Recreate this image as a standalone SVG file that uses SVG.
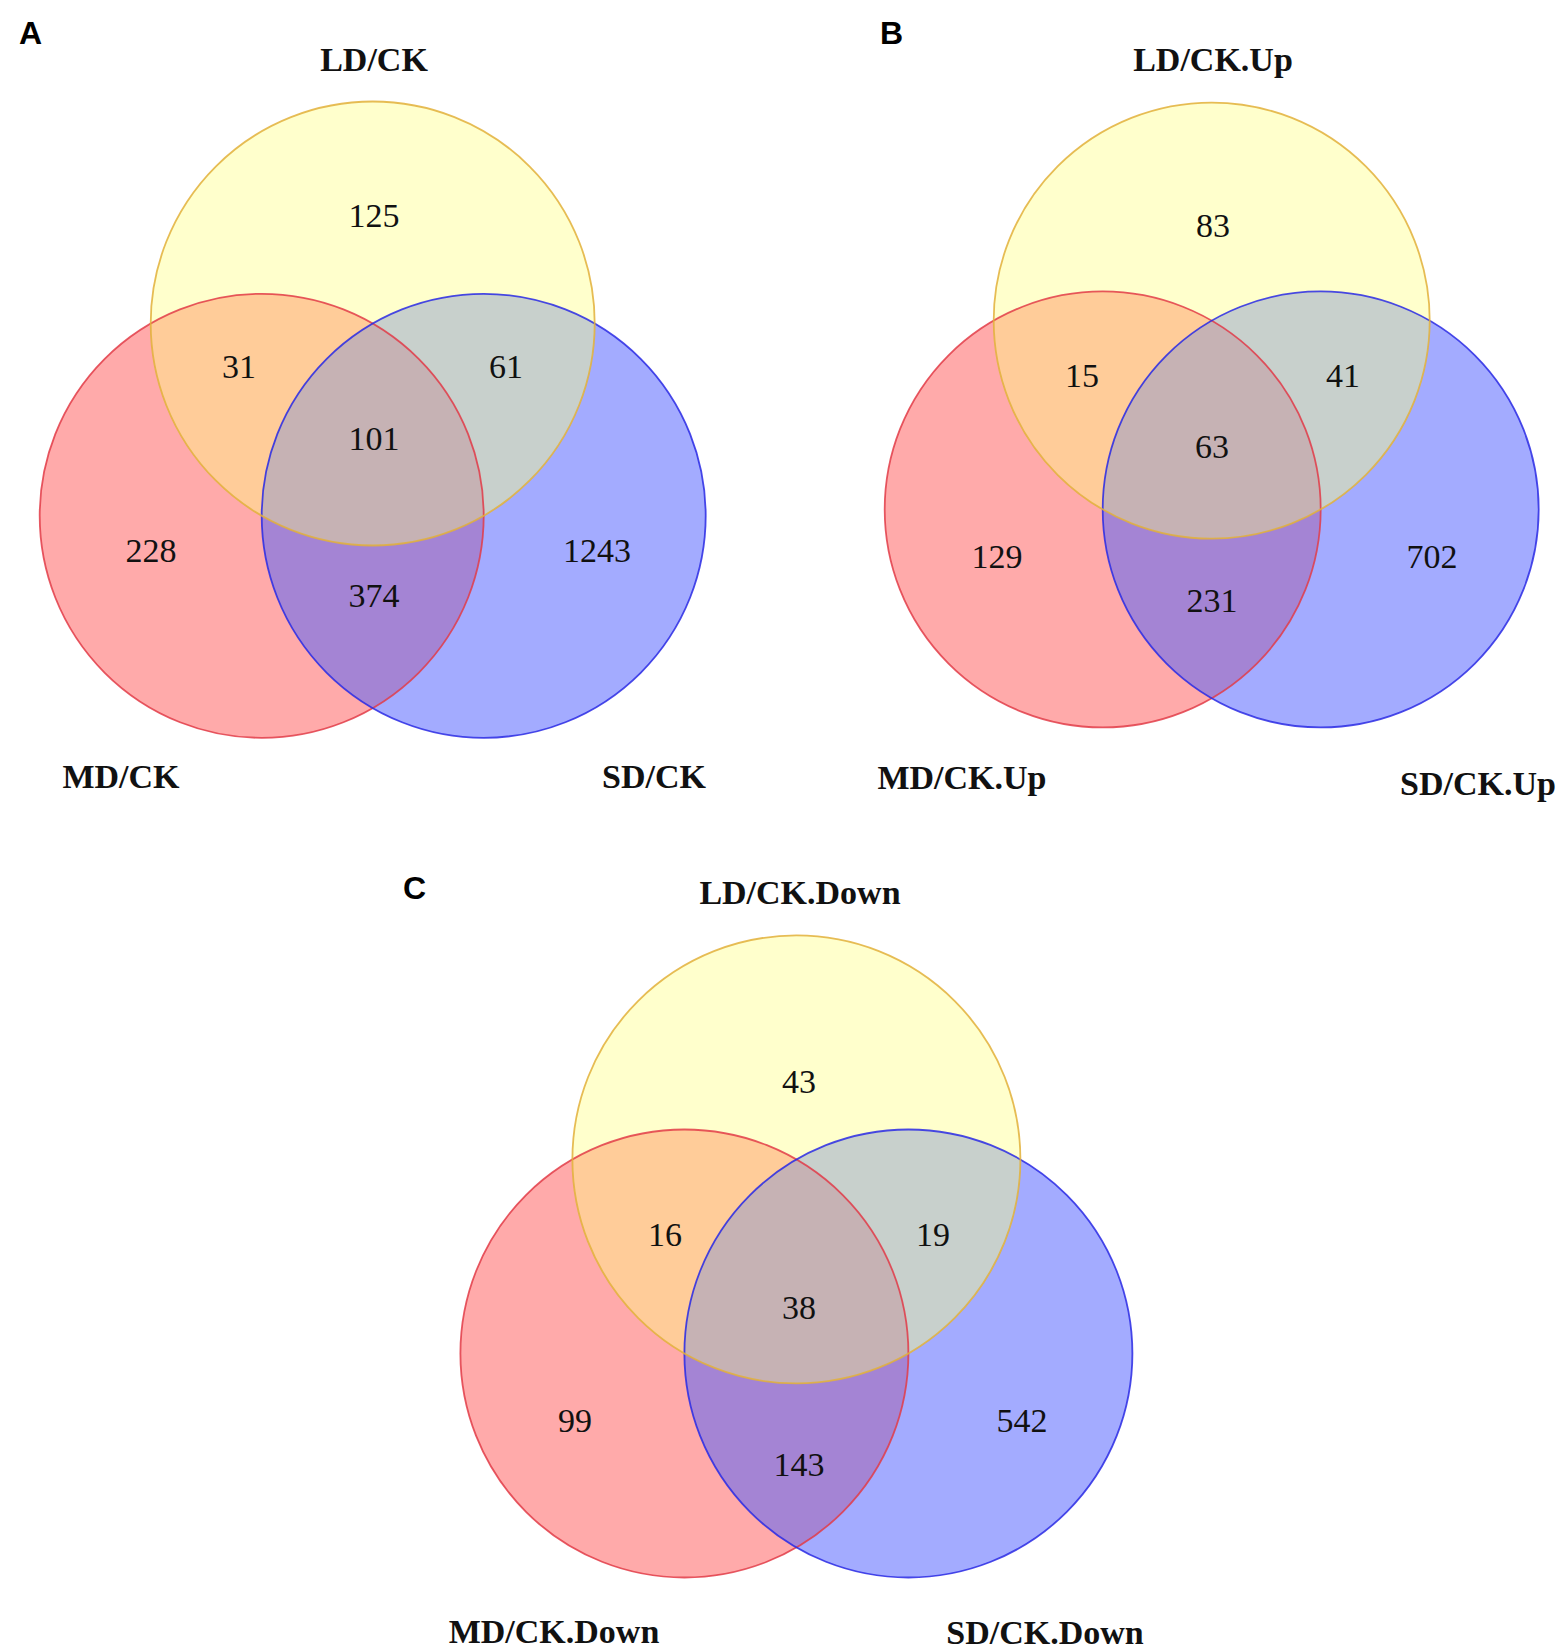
<svg xmlns="http://www.w3.org/2000/svg" xmlns:xlink="http://www.w3.org/1999/xlink" width="1562" height="1650" viewBox="0 0 1562 1650">
<style>
.ld{fill:#ffffcc}
.md{fill:#ffaaaa}
.sd{fill:#a3abff}
.ldmd{fill:#ffcc99}
.ldsd{fill:#c8d0cc}
.mdsd{fill:#a484d4}
.all{fill:#c6b2b4}
.edge{fill:none;stroke-width:1.8;stroke-opacity:0.85}
.eLD{stroke:#e2b03a}
.eMD{stroke:#e23c48}
.eSD{stroke:#2a2ae4}
.num{font-family:"Liberation Serif","Times New Roman",serif;font-size:34px;fill:#111;text-anchor:middle}
.lab{font-family:"Liberation Serif","Times New Roman",serif;font-size:34px;font-weight:bold;fill:#111;text-anchor:middle}
.pl{font-family:"Liberation Sans",Arial,sans-serif;font-size:32px;font-weight:bold;fill:#000}
</style>
<defs>
<clipPath id="clipMD"><circle cx="-111" cy="64.1" r="222"/></clipPath>
<clipPath id="clipSD"><circle cx="111" cy="64.1" r="222"/></clipPath>
<clipPath id="clipMDSD" clip-path="url(#clipSD)"><circle cx="-111" cy="64.1" r="222"/></clipPath>
</defs>
<rect width="1562" height="1650" fill="#ffffff"/>

<g id="panelA">
<g transform="translate(372.7,451.7)">
<g id="A-MD"><circle class="md" cx="-111" cy="64.1" r="222"/></g>
<g id="A-SD"><circle class="sd" cx="111" cy="64.1" r="222"/></g>
<g id="A-LD"><circle class="ld" cx="0" cy="-128.2" r="222"/></g>
<circle class="ldmd" cx="0" cy="-128.2" r="222" clip-path="url(#clipMD)"/>
<circle class="ldsd" cx="0" cy="-128.2" r="222" clip-path="url(#clipSD)"/>
<circle class="mdsd" cx="-111" cy="64.1" r="222" clip-path="url(#clipSD)"/>
<circle class="all" cx="0" cy="-128.2" r="222" clip-path="url(#clipMDSD)"/>
<circle class="edge eMD" cx="-111" cy="64.1" r="222"/>
<circle class="edge eSD" cx="111" cy="64.1" r="222"/>
<circle class="edge eLD" cx="0" cy="-128.2" r="222"/>
</g>
<text class="pl" x="19" y="44">A</text>
<text class="lab" x="374" y="71">LD/CK</text>
<text class="lab" x="121" y="788">MD/CK</text>
<text class="lab" x="654" y="788">SD/CK</text>
<text class="num" x="374" y="227">125</text>
<text class="num" x="239" y="378">31</text>
<text class="num" x="506" y="378">61</text>
<text class="num" x="374" y="450">101</text>
<text class="num" x="151" y="562">228</text>
<text class="num" x="597" y="562">1243</text>
<text class="num" x="374" y="607">374</text>
</g>

<g id="panelB">
<g transform="translate(1211.7,446.5) scale(0.982)">
<g id="B-MD"><circle class="md" cx="-111" cy="64.1" r="222"/></g>
<g id="B-SD"><circle class="sd" cx="111" cy="64.1" r="222"/></g>
<g id="B-LD"><circle class="ld" cx="0" cy="-128.2" r="222"/></g>
<circle class="ldmd" cx="0" cy="-128.2" r="222" clip-path="url(#clipMD)"/>
<circle class="ldsd" cx="0" cy="-128.2" r="222" clip-path="url(#clipSD)"/>
<circle class="mdsd" cx="-111" cy="64.1" r="222" clip-path="url(#clipSD)"/>
<circle class="all" cx="0" cy="-128.2" r="222" clip-path="url(#clipMDSD)"/>
<circle class="edge eMD" cx="-111" cy="64.1" r="222"/>
<circle class="edge eSD" cx="111" cy="64.1" r="222"/>
<circle class="edge eLD" cx="0" cy="-128.2" r="222"/>
</g>
<text class="pl" x="880" y="44">B</text>
<text class="lab" x="1213" y="71">LD/CK.Up</text>
<text class="lab" x="962" y="789">MD/CK.Up</text>
<text class="lab" x="1478" y="795">SD/CK.Up</text>
<text class="num" x="1213" y="237">83</text>
<text class="num" x="1082" y="387">15</text>
<text class="num" x="1343" y="387">41</text>
<text class="num" x="1212" y="458">63</text>
<text class="num" x="997" y="568">129</text>
<text class="num" x="1432" y="568">702</text>
<text class="num" x="1212" y="612">231</text>
</g>

<g id="panelC">
<g transform="translate(796.4,1288.8) scale(1.009)">
<g id="C-MD"><circle class="md" cx="-111" cy="64.1" r="222"/></g>
<g id="C-SD"><circle class="sd" cx="111" cy="64.1" r="222"/></g>
<g id="C-LD"><circle class="ld" cx="0" cy="-128.2" r="222"/></g>
<circle class="ldmd" cx="0" cy="-128.2" r="222" clip-path="url(#clipMD)"/>
<circle class="ldsd" cx="0" cy="-128.2" r="222" clip-path="url(#clipSD)"/>
<circle class="mdsd" cx="-111" cy="64.1" r="222" clip-path="url(#clipSD)"/>
<circle class="all" cx="0" cy="-128.2" r="222" clip-path="url(#clipMDSD)"/>
<circle class="edge eMD" cx="-111" cy="64.1" r="222"/>
<circle class="edge eSD" cx="111" cy="64.1" r="222"/>
<circle class="edge eLD" cx="0" cy="-128.2" r="222"/>
</g>
<text class="pl" x="403" y="899">C</text>
<text class="lab" x="800" y="904">LD/CK.Down</text>
<text class="lab" x="554" y="1643">MD/CK.Down</text>
<text class="lab" x="1045" y="1644">SD/CK.Down</text>
<text class="num" x="799" y="1093">43</text>
<text class="num" x="665" y="1246">16</text>
<text class="num" x="933" y="1246">19</text>
<text class="num" x="799" y="1319">38</text>
<text class="num" x="575" y="1432">99</text>
<text class="num" x="1022" y="1432">542</text>
<text class="num" x="799" y="1476">143</text>
</g>
</svg>
